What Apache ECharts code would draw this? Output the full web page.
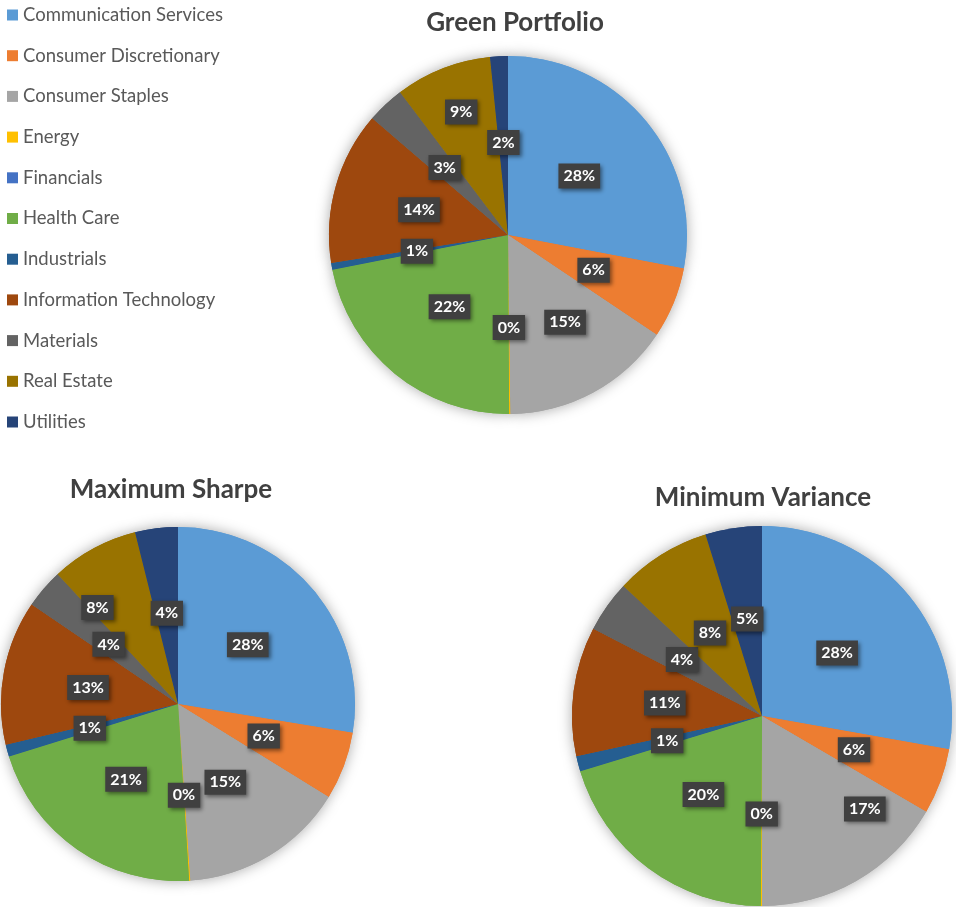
<!DOCTYPE html>
<html>
<head>
<meta charset="utf-8">
<script src="https://cdn.jsdelivr.net/npm/echarts@6/dist/echarts.min.js"></script>
<style>
html,body{margin:0;padding:0;background:#fff;}
#chart{width:956px;height:907px;}
</style>
</head>
<body>
<div id="chart"></div>
<script>
// ---- data ----
const sectors = ['Communication Services','Consumer Discretionary','Consumer Staples','Energy','Financials','Health Care','Industrials','Information Technology','Materials','Real Estate','Utilities'];
const greenPortfolio   = [28.0, 6.4, 15.4, 0.1, 0, 22.0, 0.6, 13.8, 3.4, 8.7, 1.6];
const maximumSharpe    = [27.6, 6.2, 15.1, 0.1, 0, 21.2, 1.1, 13.2, 3.6, 8.0, 3.9];
const minimumVariance  = [27.8, 5.6, 16.6, 0.1, 0, 20.2, 1.3, 11.0, 4.4, 8.2, 4.8];
const titles = ['Green Portfolio','Maximum Sharpe','Minimum Variance'];

// ---- style ----
const colors = ['#5B9BD5','#ED7D31','#A5A5A5','#FFC000','#4472C4','#70AD47','#255E91','#9E480E','#636363','#997300','#264478'];
const pieLayout = [
  {center:[508,235], radius:179},
  {center:[178,704], radius:177},
  {center:[762,716], radius:190}
];
const titlePos = [{x:510,y:5},{x:166,y:472},{x:758,y:480}];
// manual label nudges (like Excel's moved labels): [chartIdx][dataIdx] = [dx,dy]
const labelNudge = [
  {2:[13,6], 9:[-13,-37]},
  {9:[-37,-16]},
  {2:[54,8]}
];
const FONT = 'Lato, "Open Sans", sans-serif';

const chart = echarts.init(document.getElementById('chart'), null, {renderer:'canvas'});
const allSeries = [];
const seriesValues = [greenPortfolio, maximumSharpe, minimumVariance];
seriesValues.forEach((vals, si) => {
  const data = sectors.map((n, i) => {
    const d = {name:n, value:vals[i]};
    if (vals[i] === 0) d.label = {show:false};
    return d;
  });
  // shadow layer
  allSeries.push({
    type:'pie', silent:true, z:1,
    center:pieLayout[si].center, radius:pieLayout[si].radius,
    startAngle:90, clockwise:true, avoidLabelOverlap:false,
    label:{show:false}, labelLine:{show:false},
    itemStyle:{shadowBlur:14, shadowColor:'rgba(0,0,0,0.35)', shadowOffsetX:0, shadowOffsetY:0},
    emphasis:{disabled:true},
    data: sectors.map((n,i)=>({name:n, value:vals[i]}))
  });
  const nudge = labelNudge[si];
  allSeries.push({
    type:'pie', z:2, name:titles[si],
    center:pieLayout[si].center, radius:pieLayout[si].radius,
    startAngle:90, clockwise:true, avoidLabelOverlap:false,
    emphasis:{disabled:true},
    itemStyle:{borderWidth:0},
    label:{
      show:true, position:'inside',
      formatter: p => Math.round(p.value) + '%',
      color:'#fff', fontFamily:FONT, fontWeight:'bold', fontSize:16,
      backgroundColor:'#404040', padding:[5,5,4,5],
      shadowBlur:4, shadowColor:'rgba(0,0,0,0.45)', shadowOffsetX:2, shadowOffsetY:2
    },
    labelLine:{show:false},
    labelLayout: function(params){
      const n = nudge[params.dataIndex];
      if (n) return {dx:n[0], dy:n[1]};
      return {};
    },
    data
  });
});

chart.setOption({
  color: colors,
  animation:false,
  title: titles.map((t,i)=>({
    text:t, left:titlePos[i].x, top:titlePos[i].y, textAlign:'center',
    textStyle:{fontFamily:FONT, fontWeight:'bold', fontSize:26, color:'#404040'}
  })),
  legend:{
    orient:'vertical', left:7, top:5, padding:0,
    data: sectors,
    icon:'rect', itemWidth:11, itemHeight:11, itemGap:20.7,
    selectedMode:false,
    textStyle:{fontFamily:FONT, fontSize:18.5, lineHeight:20, color:'#595959'}
  },
  series: allSeries
});
</script>
</body>
</html>
